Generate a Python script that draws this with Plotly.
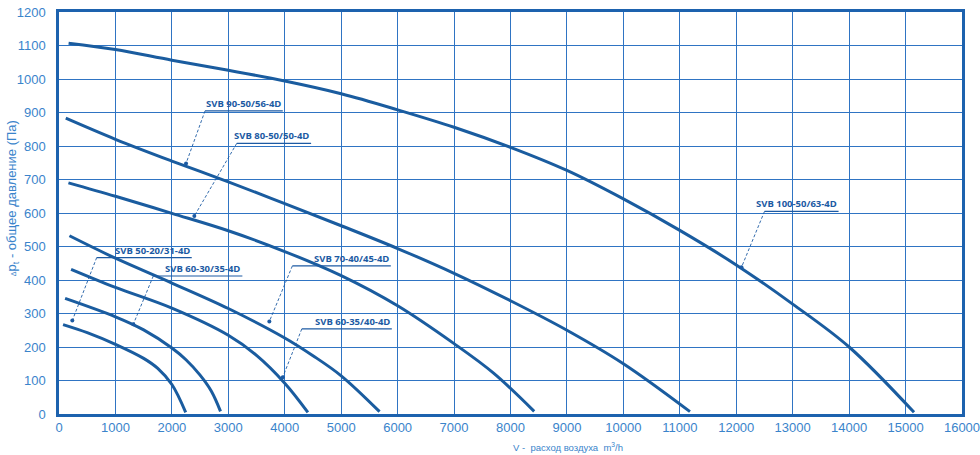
import plotly.graph_objects as go

# fan curves: air flow V (m3/h) vs total pressure (Pa)
models = ["SVB 100-50/63-4D", "SVB 90-50/56-4D", "SVB 80-50/50-4D", "SVB 70-40/45-4D",
          "SVB 60-35/40-4D", "SVB 60-30/35-4D", "SVB 50-20/31-4D"]

x_100 = [170, 1000, 2000, 3000, 4000, 5000, 6000, 7000, 8000, 9000, 10000, 11000, 12000, 13000, 14000, 15150]
y_100 = [1107, 1088, 1056, 1026, 994, 956, 908, 856, 796, 727, 642, 548, 445, 328, 200, 5]

x_90 = [120, 1000, 2000, 3000, 4000, 5000, 6000, 7000, 8000, 9000, 10000, 11180]
y_90 = [883, 820, 755, 693, 628, 562, 494, 420, 338, 250, 150, 7]

x_80 = [167, 1000, 2000, 3000, 4000, 5000, 6000, 7000, 7700, 8420]
y_80 = [690, 650, 599, 547, 485, 413, 323, 210, 122, 8]

x_70 = [185, 1000, 2000, 3000, 4000, 4500, 5000, 5680]
y_70 = [532, 465, 391, 315, 227, 174, 114, 7]

x_6035 = [214, 1000, 2000, 3000, 3500, 4000, 4410]
y_6035 = [432, 378, 316, 235, 175, 92, 5]

x_6030 = [108, 1000, 1500, 2000, 2250, 2500, 2700, 2862]
y_6030 = [345, 290, 251, 197, 162, 116, 68, 8]

x_50 = [72, 500, 1000, 1500, 1750, 2000, 2245]
y_50 = [267, 243, 208, 166, 136, 88, 5]

curves = [(x_100, y_100), (x_90, y_90), (x_80, y_80), (x_70, y_70),
          (x_6035, y_6035), (x_6030, y_6030), (x_50, y_50)]

# label callouts: point on curve, underline start, underline end, underline height
dot_x = [12093, 2251, 2398, 3727, 3965, 1317, 236]
dot_y = [438, 748, 591, 276, 110, 268, 279]
lab_x0 = [12501, 2588, 3150, 4135, 4302, 1671, 668]
lab_x1 = [13813, 3965, 4467, 5879, 5897, 3249, 2352]
lab_y = [605, 905, 808, 442, 254, 412, 467]

line_col = "#1a5c9f"
grid_col = "#2f74c3"
axis_col = "#1d62ae"
text_col = "#3a84cb"
label_col = "#1c5aa3"

fig = go.Figure()
for name, (xs, ys) in zip(models, curves):
    fig.add_trace(go.Scatter(x=xs, y=ys, mode="lines", name=name,
                             line=dict(color=line_col, width=3, shape="spline", smoothing=1),
                             showlegend=False, hoverinfo="skip"))

fig.add_trace(go.Scatter(x=dot_x, y=dot_y, mode="markers",
                         marker=dict(color=label_col, size=4),
                         showlegend=False, hoverinfo="skip"))

for i, name in enumerate(models):
    # underline
    fig.add_shape(type="line", x0=lab_x0[i], x1=lab_x1[i], y0=lab_y[i], y1=lab_y[i],
                  line=dict(color=label_col, width=1.2))
    # dashed leader
    fig.add_shape(type="line", x0=lab_x0[i], y0=lab_y[i], x1=dot_x[i], y1=dot_y[i],
                  line=dict(color=label_col, width=0.9, dash="3px,2px"))
    fig.add_annotation(x=lab_x1[i], y=lab_y[i], text=name, showarrow=False,
                       xanchor="right", yanchor="bottom", yshift=-1,
                       font=dict(family="Open Sans", size=9.5, color=label_col, weight=700))

# axis titles
fig.add_annotation(xref="paper", yref="paper", x=-0.052, y=0.537, textangle=-90,
                   showarrow=False, xanchor="center", yanchor="middle",
                   text="<span style='font-size:7px'>Δ</span>p<sub>t</sub> - общее давление (Па)",
                   font=dict(family="Liberation Sans", size=13, color=text_col))
fig.add_annotation(xref="paper", yref="paper", x=0.564, y=-0.082,
                   showarrow=False, xanchor="center", yanchor="middle",
                   text="V -\u00a0 расход воздуха\u00a0 m<sup>3</sup>/h",
                   font=dict(family="Liberation Sans", size=9.5, color=text_col))

fig.update_xaxes(range=[0, 16000], dtick=1000, showgrid=True, gridcolor=grid_col, gridwidth=1.3,
                 showline=True, linecolor=axis_col, linewidth=2.5, mirror=True, automargin=False,
                 zeroline=False, ticks="", tickformat="d", ticklabeloverflow="allow",
                 tickfont=dict(family="Liberation Sans", size=13, color=text_col))
fig.update_yaxes(range=[0, 1200], dtick=100, showgrid=True, gridcolor=grid_col, gridwidth=1.3,
                 showline=True, linecolor=axis_col, linewidth=2.5, mirror=True, automargin=False,
                 zeroline=False, ticks="", ticklabelstandoff=8, ticklabeloverflow="allow",
                 tickfont=dict(family="Liberation Sans", size=13, color=text_col))

fig.update_layout(width=980, height=455, margin=dict(l=59, r=18, t=12, b=41),
                  plot_bgcolor="white", paper_bgcolor="white")

fig.write_html("out.html", config={"displayModeBar": False},
               post_script="document.body.style.margin='0';document.body.style.overflow='hidden';")
